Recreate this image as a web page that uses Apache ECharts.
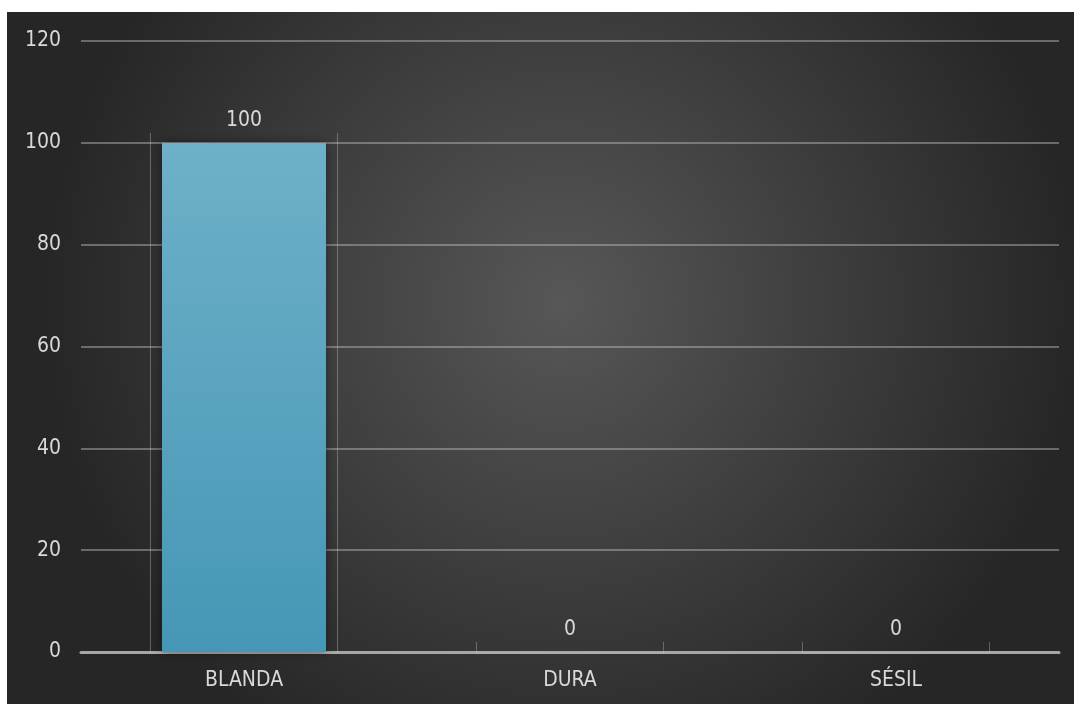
<!DOCTYPE html>
<html>
<head>
<meta charset="utf-8">
<script src="https://cdn.jsdelivr.net/npm/echarts@6/dist/echarts.min.js"></script>
<style>
  html, body { margin: 0; padding: 0; background: #ffffff; }
  #chart { position: absolute; left: 7px; top: 12px; width: 1067px; height: 692px; }
</style>
</head>
<body>
<div id="chart"></div>
<script>
// Consistencia de la lesión
const categories = ['BLANDA', 'DURA', 'SÉSIL'];
const values = [100, 0, 0];
const yTicks = [0, 20, 40, 60, 80, 100, 120];

const textColor = '#d9d9d9';
const fontFamily = '"DejaVu Sans Condensed", "Liberation Sans", sans-serif';

const chart = echarts.init(document.getElementById('chart'));

chart.setOption({
  backgroundColor: {
    type: 'radial', x: 0.52, y: 0.42, r: 0.75,
    colorStops: [
      { offset: 0, color: '#575757' },
      { offset: 0.55, color: '#3c3c3c' },
      { offset: 1, color: '#262626' }
    ]
  },
  animation: false,
  grid: { left: 74, right: 15, top: 29, bottom: 52, containLabel: false },
  xAxis: [{
    type: 'category',
    data: categories,
    axisLine: { show: true, lineStyle: { color: '#a6a6a6', width: 3 } },
    axisTick: { show: false },
    axisLabel: { color: textColor, fontSize: 21, fontFamily, margin: 18 }
  }, {
    type: 'category',
    data: categories,
    show: false
  }],
  yAxis: {
    type: 'value',
    min: yTicks[0],
    max: yTicks[yTicks.length - 1],
    interval: yTicks[1] - yTicks[0],
    axisLine: { show: false },
    axisTick: { show: false },
    axisLabel: { color: textColor, fontSize: 21, fontFamily, margin: 20 },
    splitLine: { lineStyle: { color: 'rgba(200,200,200,0.42)', width: 2 } }
  },
  series: [{
    // open-topped frame drawn around each column
    type: 'custom',
    xAxisIndex: 1,
    z: 1,
    silent: true,
    data: values.map((v, i) => [i, v]),
    renderItem: function (params, api) {
      const base = api.coord([api.value(0), 0]);
      const top = api.coord([api.value(0), api.value(1)]);
      const w = api.size([1, 0])[0] * 0.574;
      const h = base[1] - top[1] + 10;
      const x0 = base[0] - w / 2, x1 = base[0] + w / 2;
      return {
        type: 'polyline',
        shape: { points: [[x0, base[1] - h], [x0, base[1] + 1], [x1, base[1] + 1], [x1, base[1] - h]] },
        style: { fill: null, stroke: 'rgba(200,200,200,0.38)', lineWidth: 1 }
      };
    }
  }, {
    type: 'bar',
    z: 2,
    data: values,
    barWidth: '50.3%',
    itemStyle: {
      color: {
        type: 'linear', x: 0, y: 0, x2: 0, y2: 1,
        colorStops: [
          { offset: 0, color: '#6eb0c9' },
          { offset: 1, color: '#4597b5' }
        ]
      },
      shadowColor: 'rgba(0,0,0,0.45)',
      shadowBlur: 10
    },
    label: {
      show: true,
      position: 'top',
      distance: 12,
      color: textColor,
      fontSize: 21,
      fontFamily
    }
  }]
});
</script>
</body>
</html>
